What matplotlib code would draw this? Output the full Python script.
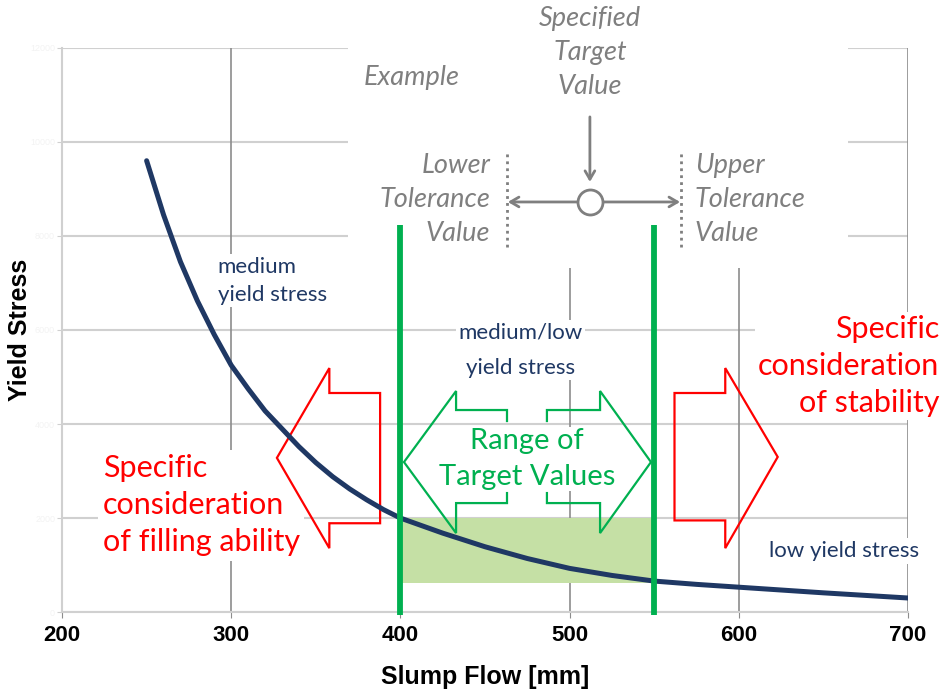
import numpy as np
import matplotlib
matplotlib.use('Agg')
import matplotlib.pyplot as plt
from matplotlib.patches import Polygon, Rectangle

# ---- data ----
slump_flow = [250, 260, 270, 280, 290, 300, 310, 320, 330, 340, 350, 360, 370, 380, 390, 400,
              425, 450, 475, 500, 525, 550, 575, 600, 625, 650, 675, 700]
yield_stress = [9600, 8450, 7450, 6620, 5900, 5250, 4750, 4280, 3900, 3520, 3180, 2880, 2620,
                2390, 2180, 2000, 1680, 1390, 1140, 930, 780, 660, 590, 530, 470, 410, 355, 300]
x_ticks = [200, 300, 400, 500, 600, 700]
y_ticks = [0, 2000, 4000, 6000, 8000, 10000, 12000]
tolerance_limits = [400, 550]        # range of target values (green lines)
target_band = [620, 2000]            # shaded band (yield stress)

NAVY = '#1f3864'
GREEN = '#00b050'
RED = '#ff0000'
GRAY = '#7f7f7f'
ANN = ['Lato', 'DejaVu Sans']

fig = plt.figure(figsize=(9.47, 6.94), dpi=100)
ax = fig.add_axes([0.0655, 0.118, 0.8933, 0.813])
ax.set_xlim(200, 700)
ax.set_ylim(0, 12000)

# grid
for yv in y_ticks:
    ax.axhline(yv, color='#d0d0d0', lw=1.5, zorder=0.5)
for xv in x_ticks[1:]:
    ax.axvline(xv, color='#8c8c8c', lw=1.2, zorder=0.6)

for s in ['top', 'right']:
    ax.spines[s].set_visible(False)
for s in ['left', 'bottom']:
    ax.spines[s].set_color('#d0d0d0')
    ax.spines[s].set_linewidth(1.5)

ax.set_xticks(x_ticks)
ax.set_yticks(y_ticks)
ax.set_xticklabels([str(v) for v in x_ticks], fontsize=16, fontweight='bold',
                   family='Liberation Sans')
ax.set_yticklabels([str(v) for v in y_ticks], fontsize=6.5, color='#f3f3f3',
                   family='Liberation Sans')
ax.tick_params(axis='x', length=4, color='#8c8c8c', pad=5)
ax.tick_params(axis='y', length=3.5, color='#d0d0d0', pad=1.5)
ax.set_xlabel('Slump Flow [mm]', fontsize=18, fontweight='bold', family='Liberation Sans')
ax.set_ylabel('Yield Stress', fontsize=18, fontweight='bold', family='Liberation Sans')
ax.xaxis.set_label_coords(0.5, -0.093)
ax.yaxis.set_label_coords(-0.036, 0.5)

# white backdrop of the example annotation group
ax.add_patch(Rectangle((369, 7320), 295.5, 5000, facecolor='white', edgecolor='none',
                       zorder=1.2, clip_on=False))

# shaded band
ax.add_patch(Rectangle((tolerance_limits[0], target_band[0]),
                       tolerance_limits[1] - tolerance_limits[0],
                       target_band[1] - target_band[0],
                       facecolor='#c5e0a5', edgecolor='none', zorder=1.5))

# curve
ax.plot(slump_flow, yield_stress, color=NAVY, lw=3.6, solid_capstyle='round',
        solid_joinstyle='round', zorder=4)

# green limit lines
for xv in tolerance_limits:
    ax.plot([xv, xv], [-60, 8234], color=GREEN, lw=4.2, zorder=5, clip_on=False,
            solid_capstyle='butt')

# red arrows (outline)
left_arrow = [(327, 3280), (358, 5190), (358, 4660), (388, 4660), (388, 1890),
              (358, 1890), (358, 1360)]
right_arrow = [(562, 4660), (592, 4660), (592, 5190), (623, 3300), (592, 1360),
               (592, 1950), (562, 1950)]
for pts in (left_arrow, right_arrow):
    ax.add_patch(Polygon(pts, closed=True, facecolor='none', edgecolor=RED, lw=1.6,
                         zorder=3.5, joinstyle='miter'))

# green open double arrow
gl = [(463.0, 4064), (463.0, 4298), (432.9, 4298), (432.9, 4702), (402.1, 3191),
      (432.9, 1681), (432.9, 2319), (463.0, 2319), (463.0, 2532)]
gr = [(486.6, 4064), (486.6, 4298), (518.0, 4298), (518.0, 4702), (548.1, 3191),
      (518.0, 1681), (518.0, 2319), (486.6, 2319), (486.6, 2532)]
for pts in (gl, gr):
    xs, ys = zip(*pts)
    ax.plot(xs, ys, color=GREEN, lw=1.6, zorder=3.6, solid_joinstyle='miter')

# texts
box = dict(facecolor='white', edgecolor='none', pad=2)
ax.text(292, 7050, 'medium\nyield stress', color=NAVY, fontsize=16, family=ANN,
        ha='left', va='center', linespacing=1.5, bbox=box, zorder=3)
ax.text(471, 5574, 'medium/low\nyield stress', color=NAVY, fontsize=16, family=ANN,
        ha='center', va='center', linespacing=1.95, bbox=box, zorder=3)
ax.text(618, 1298, 'low yield stress', color=NAVY, fontsize=16, family=ANN,
        ha='left', va='center', bbox=box, zorder=3)
ax.text(475, 3255, 'Range of\nTarget Values', color=GREEN, fontsize=21, family=ANN,
        ha='center', va='center', linespacing=1.45,
        bbox=dict(facecolor='white', edgecolor='none', pad=1), zorder=3)
ax.text(224, 2277, 'Specific\nconsideration\nof filling ability', color=RED, fontsize=22,
        family=ANN, ha='left', va='center', linespacing=1.4,
        bbox=dict(facecolor='white', edgecolor='none', pad=3), zorder=3)
ax.text(718.5, 5234, 'Specific\nconsideration\nof stability', color=RED, fontsize=22,
        family=ANN, ha='right', va='center', linespacing=1.4,
        bbox=dict(facecolor='white', edgecolor='none', pad=2), zorder=3, clip_on=False)

# example annotation (gray)
GS = 19.5
ax.text(378, 11362, 'Example', color=GRAY, fontsize=GS, family=ANN, style='italic',
        ha='left', va='center', zorder=3)
ax.text(512, 11894, 'Specified\nTarget\nValue', color=GRAY, fontsize=GS, family=ANN,
        style='italic', ha='center', va='center', linespacing=1.45, zorder=3, clip_on=False)
ax.text(453, 8780, 'Lower\nTolerance\nValue', color=GRAY, fontsize=GS, family=ANN,
        style='italic', ha='right', va='center', linespacing=1.45, zorder=3)
ax.text(574, 8780, 'Upper\nTolerance\nValue', color=GRAY, fontsize=GS, family=ANN,
        style='italic', ha='left', va='center', linespacing=1.45, zorder=3)
for xv in (463.0, 565.8):
    ax.plot([xv, xv], [7766, 9787], color=GRAY, lw=2, linestyle=(0, (1, 1.5)), zorder=3)
ax.annotate('', xy=(463.5, 8723), xytext=(565.3, 8723),
            arrowprops=dict(arrowstyle='<->,head_length=0.6,head_width=0.35',
                            color=GRAY, lw=2, shrinkA=0, shrinkB=0), zorder=3)
ax.annotate('', xy=(512, 9149), xytext=(512, 10532),
            arrowprops=dict(arrowstyle='->,head_length=0.6,head_width=0.35',
                            color=GRAY, lw=2, shrinkA=0, shrinkB=0), zorder=3)
ax.plot([512], [8723], marker='o', markersize=18, markerfacecolor='white',
        markeredgecolor=GRAY, markeredgewidth=2, zorder=3.5)

fig.savefig('out.png', dpi=100)
